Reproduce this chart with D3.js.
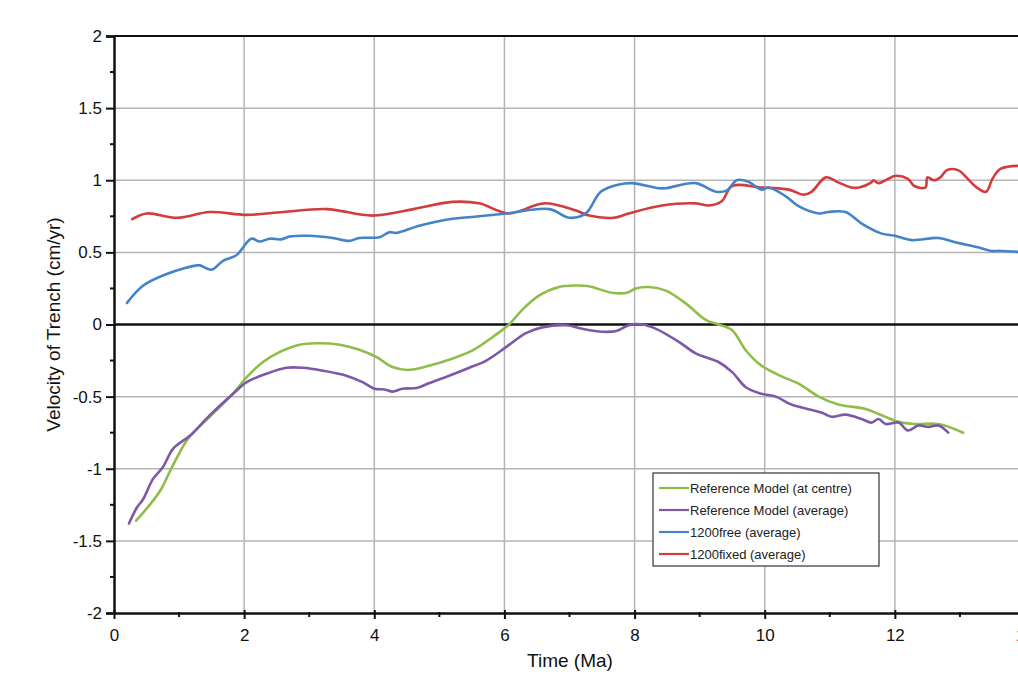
<!DOCTYPE html>
<html>
<head>
<meta charset="utf-8">
<script src="https://cdn.jsdelivr.net/npm/d3@7"></script>
<style>
  body { margin: 0; background: #fff; overflow: hidden; }
  svg { display: block; font-family: "Liberation Sans", Arial, sans-serif; }
</style>
</head>
<body>
<div id="chart"></div>
<script>
const xTicks = [0, 2, 4, 6, 8, 10, 12, 14];
const yTicks = [-2, -1.5, -1, -0.5, 0, 0.5, 1, 1.5, 2];

const refCentreT = [0.34, 0.7, 0.89, 1.14, 1.47, 1.83, 2.04, 2.29, 2.55, 2.85, 3.11, 3.47, 3.77, 4.03, 4.28, 4.51, 4.85, 5.15, 5.51, 5.81, 6.07, 6.27, 6.53, 6.84, 7.1, 7.3, 7.65, 7.88, 8.02, 8.22, 8.48, 8.79, 9.1, 9.29, 9.5, 9.71, 9.95, 10.26, 10.52, 10.83, 11.13, 11.55, 11.75, 12.06, 12.31, 12.67, 13.05];
const refCentreV = [-1.36, -1.16, -0.99, -0.79, -0.64, -0.48, -0.365, -0.26, -0.19, -0.14, -0.13, -0.14, -0.175, -0.225, -0.295, -0.315, -0.285, -0.245, -0.18, -0.09, 0.0, 0.1, 0.2, 0.26, 0.27, 0.265, 0.22, 0.22, 0.25, 0.26, 0.235, 0.145, 0.03, 0.0, -0.04, -0.18, -0.285, -0.36, -0.41, -0.5, -0.555, -0.585, -0.62, -0.675, -0.69, -0.69, -0.75];

const refAvgT = [0.23, 0.35, 0.45, 0.6, 0.75, 0.91, 1.17, 1.47, 1.83, 2.04, 2.35, 2.65, 2.9, 3.21, 3.57, 3.82, 4.0, 4.16, 4.28, 4.43, 4.65, 4.85, 5.15, 5.46, 5.72, 6.03, 6.33, 6.58, 6.95, 7.2, 7.5, 7.72, 7.91, 8.12, 8.33, 8.68, 8.94, 9.29, 9.5, 9.71, 9.95, 10.17, 10.41, 10.87, 11.03, 11.24, 11.49, 11.64, 11.75, 11.86, 12.06, 12.2, 12.36, 12.52, 12.67, 12.82];
const refAvgV = [-1.38, -1.27, -1.21, -1.07, -0.99, -0.86, -0.77, -0.63, -0.48, -0.4, -0.34, -0.3, -0.3, -0.32, -0.355, -0.4, -0.445, -0.45, -0.465, -0.445, -0.44, -0.405, -0.355, -0.3, -0.25, -0.155, -0.06, -0.02, -0.005, -0.03, -0.05, -0.045, -0.005, 0.0, -0.03, -0.12, -0.2, -0.26, -0.33, -0.435, -0.48, -0.5, -0.555, -0.61, -0.64, -0.625, -0.655, -0.68, -0.655, -0.69, -0.68, -0.735, -0.7, -0.71, -0.7, -0.75];

const freeT = [0.2, 0.45, 0.81, 1.27, 1.32, 1.5, 1.67, 1.88, 2.11, 2.24, 2.39, 2.57, 2.7, 3.0, 3.36, 3.62, 3.77, 4.08, 4.23, 4.34, 4.69, 5.15, 5.61, 6.03, 6.69, 7.0, 7.25, 7.48, 7.76, 7.96, 8.37, 8.48, 8.94, 9.25, 9.42, 9.57, 9.75, 9.95, 10.06, 10.32, 10.52, 10.83, 10.98, 11.24, 11.49, 11.8, 12.0, 12.26, 12.67, 12.93, 13.28, 13.48, 13.63, 14.0];
const freeV = [0.15, 0.27, 0.35, 0.41, 0.41, 0.38, 0.44, 0.48, 0.595, 0.575, 0.595, 0.59, 0.61, 0.615, 0.6, 0.58, 0.6, 0.605, 0.64, 0.635, 0.685, 0.73, 0.75, 0.77, 0.8, 0.74, 0.77, 0.92, 0.97, 0.98, 0.945, 0.945, 0.98, 0.92, 0.93, 1.0, 0.99, 0.935, 0.95, 0.89, 0.82, 0.77, 0.78, 0.78, 0.7, 0.63, 0.615, 0.585, 0.6, 0.57, 0.535, 0.51, 0.51, 0.5];

const fixedT = [0.28, 0.5, 0.97, 1.47, 2.04, 2.6, 3.27, 3.97, 4.6, 5.2, 5.61, 6.07, 6.61, 7.1, 7.3, 7.68, 7.91, 8.42, 8.94, 9.14, 9.34, 9.5, 9.95, 10.37, 10.6, 10.72, 10.94, 11.13, 11.33, 11.45, 11.64, 11.67, 11.75, 11.9, 12.0, 12.2, 12.3, 12.47, 12.5, 12.6, 12.7, 12.8, 12.97, 13.1, 13.23, 13.4, 13.5, 13.63, 14.0];
const fixedV = [0.73, 0.77, 0.74, 0.78, 0.76, 0.78, 0.8, 0.755, 0.8, 0.85, 0.84, 0.77, 0.84, 0.79, 0.755, 0.74, 0.77, 0.825, 0.84, 0.825, 0.855, 0.96, 0.95, 0.935, 0.9, 0.92, 1.02, 0.985, 0.95, 0.95, 0.985, 1.0, 0.98, 1.01, 1.03, 1.01, 0.96, 0.95, 1.02, 1.0, 1.02, 1.07, 1.07, 1.02, 0.96, 0.92, 1.01, 1.08, 1.1];

const seriesNames = ["Reference Model (at centre)", "Reference Model (average)", "1200free (average)", "1200fixed (average)"];
const seriesColors = ["#8fbd4a", "#7e58a8", "#4583c9", "#d23c3c"];
const seriesT = [refCentreT, refAvgT, freeT, fixedT];
const seriesV = [refCentreV, refAvgV, freeV, fixedV];

const width = 1018, height = 679;
const x = d3.scaleLinear().domain([0, 14]).range([114, 1025]);
const y = d3.scaleLinear().domain([-2, 2]).range([613, 36]);

const svg = d3.select("#chart").append("svg")
    .attr("width", width)
    .attr("height", height);

// grid
svg.selectAll(".vgrid")
    .data(xTicks.filter(d => d > 0))
    .enter().append("line")
    .attr("class", "vgrid")
    .attr("x1", d => x(d)).attr("x2", d => x(d))
    .attr("y1", y(2)).attr("y2", y(-2))
    .attr("stroke", "#b4b4b4")
    .attr("stroke-width", 1.5);

svg.selectAll(".hgrid")
    .data(yTicks.filter(d => d !== 2 && d !== -2 && d !== 0))
    .enter().append("line")
    .attr("class", "hgrid")
    .attr("x1", x(0)).attr("x2", width)
    .attr("y1", d => y(d)).attr("y2", d => y(d))
    .attr("stroke", "#b4b4b4")
    .attr("stroke-width", 1.5);

// top border and zero line
svg.append("line")
    .attr("x1", x(0)).attr("x2", width)
    .attr("y1", y(2)).attr("y2", y(2))
    .attr("stroke", "#111").attr("stroke-width", 2);

svg.append("line")
    .attr("x1", x(0)).attr("x2", width)
    .attr("y1", y(0)).attr("y2", y(0))
    .attr("stroke", "#111").attr("stroke-width", 2.5);

// axes
const yAxis = d3.axisLeft(y).tickValues(yTicks).tickSize(8).tickFormat(d => String(d));
const gy = svg.append("g")
    .attr("transform", `translate(${x(0)},0)`)
    .call(yAxis);
gy.select(".domain").attr("stroke", "#111").attr("stroke-width", 2.5);
gy.selectAll(".tick line").attr("stroke", "#111").attr("stroke-width", 2);
gy.selectAll("text").attr("font-size", "17px").attr("fill", "#111").attr("x", -12);

const yMinor = d3.range(-1.75, 2, 0.5);
svg.selectAll(".yminor")
    .data(yMinor)
    .enter().append("line")
    .attr("x1", x(0) - 4).attr("x2", x(0) + 1)
    .attr("y1", d => y(d)).attr("y2", d => y(d))
    .attr("stroke", "#111").attr("stroke-width", 2);

const xAxis = d3.axisBottom(x).tickValues(xTicks).tickSize(6).tickSizeOuter(0);
const gx = svg.append("g")
    .attr("transform", `translate(0,${y(-2)})`)
    .call(xAxis);
gx.select(".domain").attr("stroke", "#111").attr("stroke-width", 2.5);
gx.selectAll(".tick line").attr("stroke", "#111").attr("stroke-width", 2).attr("y1", -3);
gx.selectAll("text").attr("font-size", "17px").attr("fill", "#111").attr("dy", "1.1em");

const xMinor = d3.range(1, 14, 2);
svg.selectAll(".xminor")
    .data(xMinor)
    .enter().append("line")
    .attr("x1", d => x(d)).attr("x2", d => x(d))
    .attr("y1", y(-2) - 1).attr("y2", y(-2) + 4)
    .attr("stroke", "#111").attr("stroke-width", 2);

// axis titles
svg.append("text")
    .attr("x", 570).attr("y", 667)
    .attr("text-anchor", "middle")
    .attr("font-size", "19px")
    .attr("fill", "#111")
    .text("Time (Ma)");

svg.append("text")
    .attr("transform", `translate(60,${y(0)}) rotate(-90)`)
    .attr("text-anchor", "middle")
    .attr("font-size", "19px")
    .attr("fill", "#111")
    .text("Velocity of Trench (cm/yr)");

// series
const line = d3.line()
    .x(d => x(d[0]))
    .y(d => y(d[1]))
    .curve(d3.curveCatmullRom);

const drawOrder = [3, 2, 0, 1];
drawOrder.forEach(i => {
    svg.append("path")
        .datum(seriesT[i].map((t, j) => [t, seriesV[i][j]]))
        .attr("fill", "none")
        .attr("stroke", seriesColors[i])
        .attr("stroke-width", 2.6)
        .attr("stroke-linejoin", "round")
        .attr("stroke-linecap", "round")
        .attr("d", line);
});

// legend
const legend = svg.append("g").attr("transform", "translate(653,473)");
legend.append("rect")
    .attr("width", 226).attr("height", 93)
    .attr("fill", "#fff")
    .attr("stroke", "#333").attr("stroke-width", 1.2);

legend.selectAll(".item")
    .data(seriesNames)
    .enter().append("g")
    .attr("transform", (d, i) => `translate(0,${15 + i * 22})`)
    .each(function(d, i) {
        const g = d3.select(this);
        g.append("line")
            .attr("x1", 6).attr("x2", 36)
            .attr("stroke", seriesColors[i]).attr("stroke-width", 2.2);
        g.append("text")
            .attr("x", 37).attr("y", 4.5)
            .attr("font-size", "13px")
            .attr("fill", "#222")
            .text(d);
    });
</script>
</body>
</html>
